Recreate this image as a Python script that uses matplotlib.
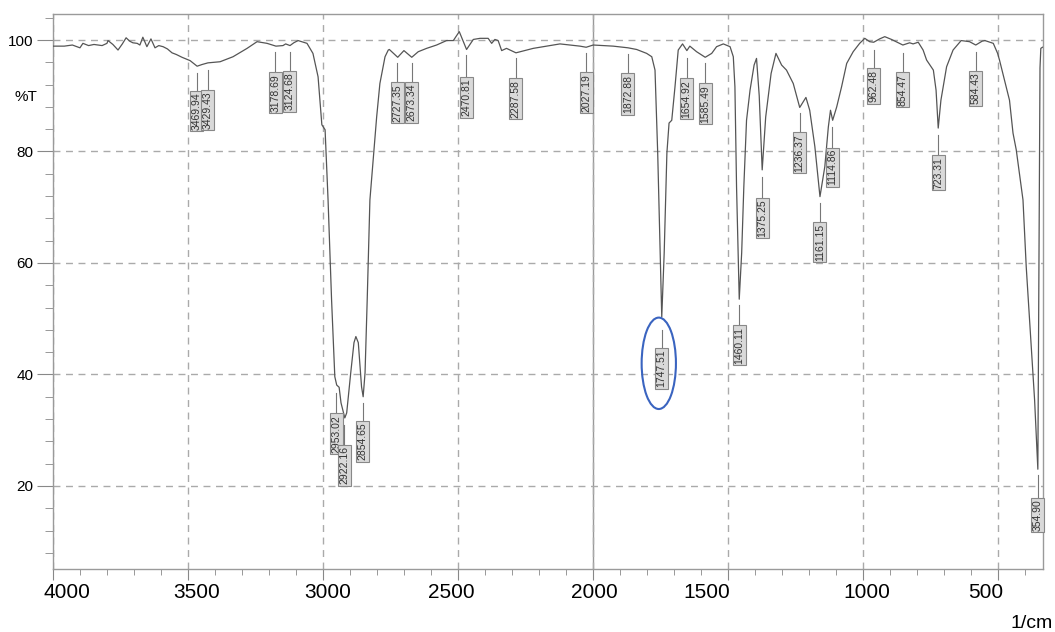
import numpy as np
import matplotlib
matplotlib.use("Agg")
import matplotlib.pyplot as plt
from matplotlib.patches import Ellipse
from matplotlib.ticker import MultipleLocator
from matplotlib.transforms import offset_copy

plt.rcParams['font.family'] = ['Liberation Sans', 'DejaVu Sans']

# spectrum (1/cm, %T)
wavenumber = [4000, 3960, 3930, 3902, 3891, 3870, 3850, 3820, 3802, 3798, 3780, 3761, 3745,
              3731, 3718, 3706, 3690, 3680, 3669, 3654, 3639, 3624, 3610, 3594, 3578, 3561,
              3545, 3524, 3494, 3468, 3450, 3428, 3383, 3335, 3283, 3246, 3209, 3176, 3150,
              3140, 3124, 3110, 3094, 3061, 3039, 3020, 3006, 2994, 2983, 2975, 2970, 2958,
              2951, 2942, 2935, 2921, 2914, 2899, 2887, 2880, 2871, 2859, 2853, 2846, 2838,
              2828, 2803, 2791, 2772, 2760, 2756, 2725, 2702, 2673, 2649, 2618, 2581, 2544,
              2519, 2497, 2470, 2445, 2420, 2390, 2377, 2365, 2353, 2340, 2322, 2287, 2223,
              2124, 2050, 2027, 2001, 1927, 1872, 1840, 1803, 1784, 1772, 1762, 1753, 1747,
              1738, 1728, 1720, 1710, 1698, 1686, 1670, 1654, 1643, 1618, 1586, 1562, 1544,
              1519, 1494, 1482, 1476, 1470, 1460, 1451, 1443, 1433, 1420, 1405, 1396, 1386,
              1375, 1362, 1342, 1324, 1303, 1285, 1260, 1236, 1213, 1199, 1180, 1161, 1143,
              1130, 1122, 1114, 1099, 1081, 1062, 1038, 1014, 995, 977, 962, 940, 921, 896,
              854, 829, 816, 797, 779, 766, 741, 731, 723, 713, 692, 668, 638, 607, 584, 560,
              550, 519, 503, 496, 459, 446, 434, 409, 397, 366, 354, 350, 346, 343, 337]
transmittance = [98.9, 98.9, 99.1, 98.6, 99.4, 99.0, 99.2, 99.0, 99.4, 99.9, 99.2, 98.2, 99.3,
                 100.4, 99.8, 99.5, 99.4, 99.1, 100.5, 98.8, 100.2, 98.6, 99.0, 98.8, 98.4, 97.7,
                 97.4, 96.9, 96.3, 95.3, 95.6, 95.9, 96.1, 97.0, 98.5, 99.7, 99.4, 98.9, 99.0,
                 99.3, 99.0, 99.5, 99.9, 99.4, 97.6, 93.4, 84.8, 83.9, 71.3, 60.0, 53.4, 39.6,
                 38.1, 37.7, 34.9, 32.2, 33.1, 40.3, 45.7, 46.8, 45.7, 37.8, 36.0, 40.3, 53.4,
                 71.3, 86.2, 92.2, 97.0, 98.2, 98.3, 96.9, 98.1, 96.9, 97.9, 98.5, 99.1, 99.9,
                 99.9, 101.5, 98.3, 100.1, 100.3, 100.3, 99.4, 100.1, 99.9, 98.1, 98.5, 97.7, 98.5,
                 99.3, 98.9, 98.7, 99.1, 98.9, 98.6, 98.3, 97.6, 97.0, 94.6, 79.7, 61.8, 50.3,
                 61.8, 79.7, 85.1, 85.6, 91.6, 98.2, 99.3, 98.1, 98.9, 97.9, 96.9, 97.6, 98.8,
                 99.3, 98.8, 97.0, 91.6, 73.7, 53.5, 61.8, 73.7, 85.6, 91.0, 95.5, 96.7, 90.0,
                 76.7, 86.2, 94.0, 97.6, 95.5, 94.6, 92.2, 87.9, 89.7, 87.4, 80.9, 71.9, 77.3,
                 84.4, 87.4, 85.6, 88.0, 91.6, 95.8, 97.9, 99.4, 100.3, 99.7, 99.6, 100.2, 100.6, 100.1,
                 99.1, 99.5, 99.3, 99.6, 98.2, 96.4, 94.6, 91.0, 84.2, 89.2, 95.2, 98.2, 99.9, 99.7, 99.1, 99.8,
                 99.9, 99.4, 97.6, 96.4, 89.2, 83.3, 80.3, 71.3, 59.3, 35.4, 23.0, 60.0, 95.0, 98.5, 98.7]

peak_wn = [3469.94, 3429.43, 3178.69, 3124.68, 2953.02, 2922.16, 2854.65, 2727.35, 2673.34,
           2470.81, 2287.58, 2027.19, 1872.88, 1747.51, 1654.92, 1585.49, 1460.11, 1375.25,
           1236.37, 1161.15, 1114.86, 962.48, 854.47, 723.31, 584.43, 354.90]

# where each leader line starts and where its box hangs (in %T)
leader_top = [94.1, 94.6, 97.8, 97.8, 36.7, 30.9, 34.9, 95.9, 95.9, 97.3, 96.8, 97.7, 97.5,
              48.0, 96.8, 95.9, 52.5, 75.4, 86.9, 70.8, 84.4, 98.2, 97.7, 83.0, 97.8, 22.0]
box_top = [91.0, 91.2, 94.3, 94.6, 33.1, 27.5, 31.7, 92.5, 92.5, 93.5, 93.2, 94.3, 94.1,
           44.8, 93.2, 92.3, 48.9, 71.8, 83.5, 67.4, 80.8, 95.0, 94.3, 79.4, 94.6, 18.0]

xticks = [4000, 3500, 3000, 2500, 2000, 1500, 1000, 500]
xtick_shift = [13, 8, 4, -7, 1, -22, 3, -13]

fig = plt.figure(figsize=(10.55, 6.32), dpi=100)
ax = fig.add_axes([0.0507, 0.0997, 0.9379, 0.8781])

ax.plot(wavenumber, transmittance, color='#555555', lw=0.9, zorder=3)

ax.set_xlim(4000, 335)
ax.set_ylim(5.1, 104.66)

ax.set_xticks(xticks)
ax.xaxis.set_minor_locator(MultipleLocator(100))
ax.set_yticks([20, 40, 60, 80, 100])
ax.yaxis.set_minor_locator(MultipleLocator(4))

ax.grid(True, which='major', ls=(0, (5, 4)), color='#aaaaaa', lw=1)
ax.axvline(2000, color='#999999', lw=1, zorder=1)

for s in ax.spines.values():
    s.set_color('#9a9a9a')
    s.set_linewidth(1)

ax.tick_params(axis='y', which='major', direction='out', length=11.5, color='#888888',
               labelsize=11, pad=3)
ax.tick_params(axis='y', which='minor', direction='out', length=5.8, color='#888888')
ax.tick_params(axis='x', which='major', direction='out', length=8, color='#888888',
               labelbottom=False)
ax.tick_params(axis='x', which='minor', direction='out', length=4.3, color='#888888')

# x tick labels sit a bit off their ticks in the original
for v, s in zip(xticks, xtick_shift):
    tr = offset_copy(ax.get_xaxis_transform(), fig=fig, x=s, y=-14, units='dots')
    ax.text(v, 0, str(v), transform=tr, ha='center', va='top', fontsize=15)

# peak labels
for wn, l0, b in zip(peak_wn, leader_top, box_top):
    ax.plot([wn, wn], [l0, b], color='#777777', lw=0.8, zorder=4)
    ax.annotate('%.2f' % wn, xy=(wn, b), xytext=(0, -1.5), textcoords='offset points',
                rotation=90, ha='center', va='top', fontsize=7.5, color='#333333', zorder=5,
                bbox=dict(boxstyle='square,pad=0.15', fc='#d9d9d9', ec='#888888', lw=0.8))

ax.add_patch(Ellipse((1758, 42.0), 127, 16.4, fill=False, ec='#3a64c0', lw=1.5, zorder=6))

fig.text(0.025, 1 - 97 / 632, '%T', ha='center', va='center', fontsize=11)
fig.text(1032 / 1055, 1 - 623 / 632, '1/cm', ha='center', va='center', fontsize=14)

plt.savefig('out.png', dpi=100)
plt.close()
